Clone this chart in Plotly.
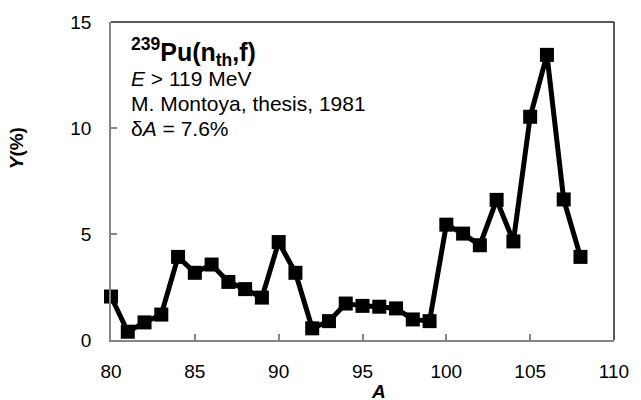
import plotly.graph_objects as go

A = [80, 81, 82, 83, 84, 85, 86, 87, 88, 89, 90, 91, 92, 93, 94, 95, 96, 97, 98, 99,
     100, 101, 102, 103, 104, 105, 106, 107, 108]
Y = [2.05, 0.39, 0.83, 1.2, 3.92, 3.17, 3.56, 2.74, 2.40, 2.0, 4.62, 3.17, 0.55, 0.89, 1.72,
     1.61, 1.57, 1.49, 0.97, 0.89, 5.44, 5.02, 4.47, 6.61, 4.65, 10.53, 13.45, 6.63, 3.92]

x_ticks = [80, 85, 90, 95, 100, 105, 110]
y_ticks = [0, 5, 10, 15]

FONT = "Liberation Sans, Arial, sans-serif"
GRAY = "#868686"

fig = go.Figure()
fig.add_trace(go.Scatter(
    x=A, y=Y, mode="lines+markers",
    line=dict(color="black", width=5),
    marker=dict(symbol="square", size=14, color="black"),
    showlegend=False, cliponaxis=False,
))

fig.update_layout(
    width=641, height=400,
    margin=dict(l=111, r=18, t=21, b=60),
    paper_bgcolor="white", plot_bgcolor="white",
    font=dict(family=FONT, size=19, color="black"),
    xaxis=dict(range=[80, 110], tickvals=x_ticks, ticks="inside", ticklen=6,
               tickcolor=GRAY, tickwidth=1.5, showline=True, linecolor=GRAY, linewidth=1.5,
               showgrid=False, zeroline=False, ticklabelstandoff=13,
               tickfont=dict(size=19)),
    yaxis=dict(range=[0, 15], tickvals=y_ticks, ticks="inside", ticklen=6,
               tickcolor=GRAY, tickwidth=1.5, showline=True, linecolor=GRAY, linewidth=1.5,
               showgrid=False, zeroline=False, ticklabelstandoff=14,
               tickfont=dict(size=19)),
    shapes=[
        dict(type="line", xref="paper", yref="paper", x0=0, x1=1, y0=1, y1=1,
             line=dict(color="#222", width=1.5)),
        dict(type="line", xref="paper", yref="paper", x0=1, x1=1, y0=0, y1=1,
             line=dict(color="#222", width=1.5)),
    ],
)

def ann(text, y, size, x=0.035):
    fig.add_annotation(text=text, xref="paper", yref="paper", x=x, y=y,
                       xanchor="left", yanchor="middle", showarrow=False,
                       font=dict(family=FONT, size=size, color="black"))

ann("<b><sup>239</sup>Pu(n<sub>th</sub>,f)</b>", 0.905, 25)
ann("<i>E</i> &gt; 119 MeV", 0.821, 21)
ann("M. Montoya, thesis, 1981", 0.743, 21)
ann("δ<i>A</i> = 7.6%", 0.666, 21)

fig.add_annotation(text="<b><i>Y</i>(%)</b>", xref="paper", yref="paper",
                   x=(15 - 111) / 512, y=(340 - 148) / 319, textangle=-90,
                   xanchor="center", yanchor="middle", showarrow=False,
                   font=dict(family=FONT, size=19))
fig.add_annotation(text="<b><i>A</i></b>", xref="paper", yref="paper",
                   x=(383 - 111) / 512, y=(340 - 392) / 319,
                   xanchor="center", yanchor="middle", showarrow=False,
                   font=dict(family=FONT, size=19))

fig.write_html("out.html")
